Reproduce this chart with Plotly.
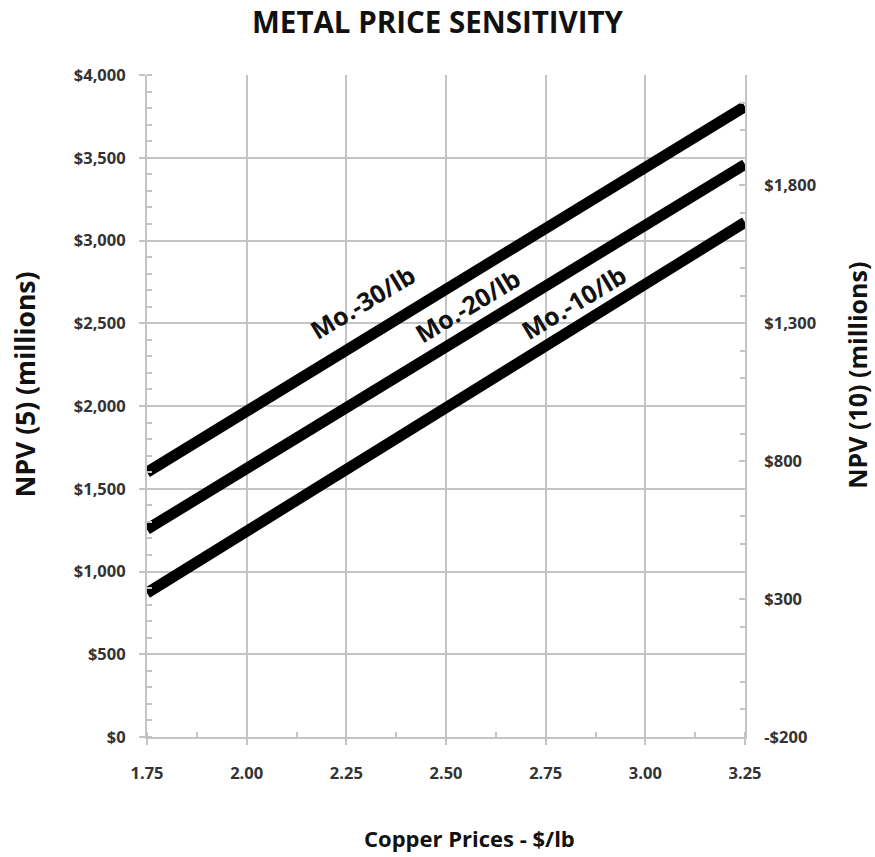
import plotly.graph_objects as go

# Copper price (x) and NPV(5) in $ millions for each molybdenum price case
copper_price = [1.75, 3.25]
npv_mo30 = [1600, 3810]
npv_mo20 = [1255, 3460]
npv_mo10 = [870, 3110]

series_labels = ["Mo.-30/lb", "Mo.-20/lb", "Mo.-10/lb"]
label_pos_x = [2.29, 2.555, 2.82]
label_pos_y = [2630, 2610, 2630]

x_tickvals = [1.75, 2.00, 2.25, 2.50, 2.75, 3.00, 3.25]
x_ticktext = ["1.75", "2.00", "2.25", "2.50", "2.75", "3.00", "3.25"]
y_tickvals = [0, 500, 1000, 1500, 2000, 2500, 3000, 3500, 4000]
y_ticktext = ["$0", "$500", "$1,000", "$1,500", "$2,000", "$2,500", "$3,000", "$3,500", "$4,000"]
y2_tickvals = [-200, 300, 800, 1300, 1800]
y2_ticktext = ["-$200", "$300", "$800", "$1,300", "$1,800"]

FONT = "Open Sans, Arial"
GRID = "#c4c4c4"
TICK_FONT = dict(family=FONT, size=16.5, color="#333333", weight="bold")

fig = go.Figure()
for ys in (npv_mo30, npv_mo20, npv_mo10):
    fig.add_trace(go.Scatter(x=copper_price, y=ys, mode="lines",
                             line=dict(color="black", width=11),
                             showlegend=False, hoverinfo="skip"))
# invisible trace to activate the secondary axis
fig.add_trace(go.Scatter(x=[1.75], y=[-200], yaxis="y2", mode="markers",
                         marker=dict(opacity=0), showlegend=False, hoverinfo="skip"))

for text, lx, ly in zip(series_labels, label_pos_x, label_pos_y):
    fig.add_annotation(x=lx, y=ly, text=text, showarrow=False, textangle=-31,
                       xanchor="center", yanchor="middle",
                       font=dict(family=FONT, size=25, color="#111111", weight="bold"))

# axis titles placed as paper-anchored annotations
fig.add_annotation(xref="paper", yref="paper", x=-0.204, y=0.533,
                   xanchor="center", yanchor="middle",
                   text="NPV (5) (millions)", showarrow=False, textangle=-90,
                   font=dict(family=FONT, size=26.5, color="#111111", weight="bold"))
fig.add_annotation(xref="paper", yref="paper", x=1.187, y=0.547,
                   xanchor="center", yanchor="middle",
                   text="NPV (10) (millions)", showarrow=False, textangle=-90,
                   font=dict(family=FONT, size=25, color="#111111", weight="bold"))
fig.add_annotation(xref="paper", yref="paper", x=0.54, y=-0.153,
                   xanchor="center", yanchor="middle",
                   text="Copper Prices - $/lb", showarrow=False,
                   font=dict(family=FONT, size=22, color="#111111", weight="bold"))

fig.update_layout(
    width=875, height=857,
    margin=dict(l=147, r=130, t=75, b=120),
    plot_bgcolor="white", paper_bgcolor="white",
    title=dict(text="METAL PRICE SENSITIVITY", x=0.5, xanchor="center",
               y=0.974, yanchor="middle",
               font=dict(family=FONT, size=29.5, color="#111111", weight="bold")),
    xaxis=dict(range=[1.75, 3.25], tickvals=x_tickvals, ticktext=x_ticktext,
               showgrid=True, gridcolor=GRID, gridwidth=2,
               showline=True, linecolor=GRID, linewidth=2,
               ticks="outside", ticklen=6, tickcolor=GRID, tickwidth=2,
               minor=dict(dtick=0.125, tick0=1.75, ticks="inside", ticklen=5,
                          tickcolor=GRID, tickwidth=2, showgrid=False),
               tickfont=TICK_FONT, ticklabelstandoff=14, zeroline=False),
    yaxis=dict(range=[0, 4000], tickvals=y_tickvals, ticktext=y_ticktext,
               showgrid=True, gridcolor=GRID, gridwidth=2,
               showline=True, linecolor=GRID, linewidth=2,
               ticks="outside", ticklen=6, tickcolor=GRID, tickwidth=2,
               minor=dict(dtick=100, tick0=0, ticks="inside", ticklen=5,
                          tickcolor=GRID, tickwidth=2, showgrid=False),
               tickfont=TICK_FONT, ticklabelstandoff=10, zeroline=False),
    yaxis2=dict(range=[-200, 2200], overlaying="y", side="right",
                tickvals=y2_tickvals, ticktext=y2_ticktext,
                showgrid=False, showline=True, linecolor=GRID, linewidth=2,
                ticks="inside", ticklen=6, tickcolor=GRID, tickwidth=2,
                minor=dict(dtick=100, tick0=-200, ticks="inside", ticklen=5,
                           tickcolor=GRID, tickwidth=2),
                tickfont=TICK_FONT, ticklabelstandoff=14, zeroline=False),
)

fig.write_html("out.html")
